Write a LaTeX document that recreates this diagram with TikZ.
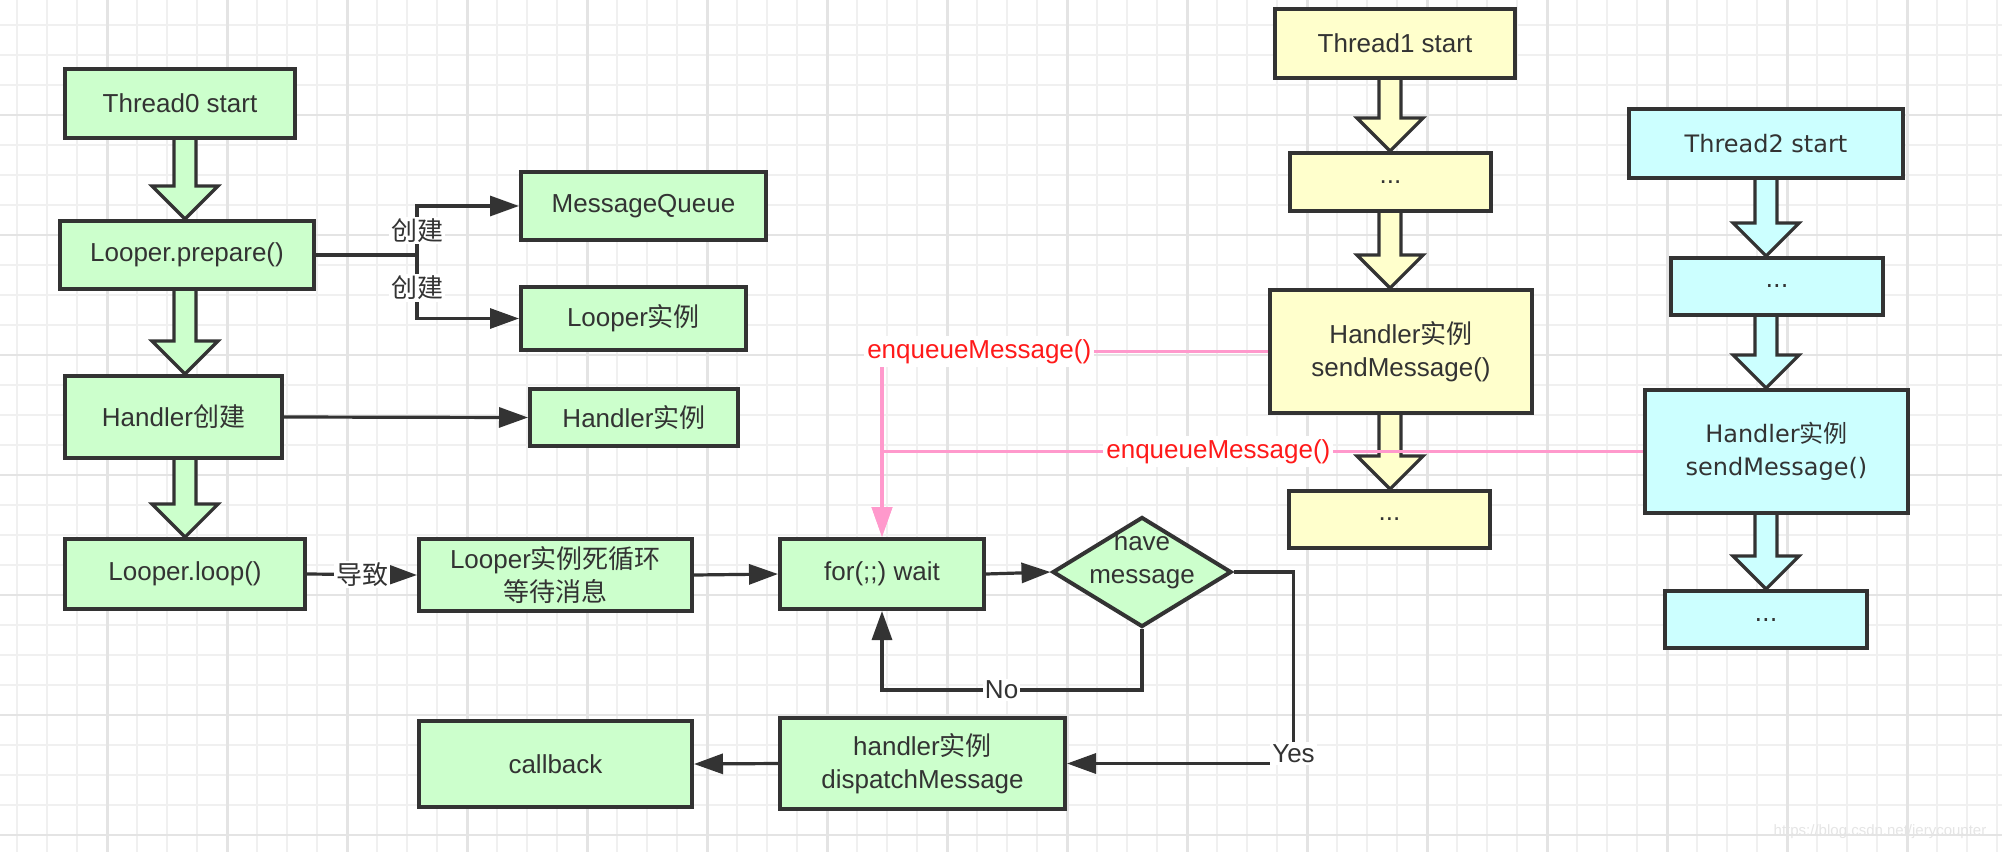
\documentclass[tikz,border=0pt]{standalone}
\usepackage{fontspec}
\setmainfont{Liberation Sans}
\newfontfamily\cjk{Noto Sans CJK SC}
\newfontfamily\dejavu{DejaVu Sans}
\usetikzlibrary{arrows.meta,calc,shapes.geometric}

\definecolor{gfill}{HTML}{CCFFCC}
\definecolor{yfill}{HTML}{FFFFCC}
\definecolor{cfill}{HTML}{CCFFFF}
\definecolor{edge}{HTML}{333333}
\definecolor{pinkline}{HTML}{FF99CC}
\definecolor{enqred}{HTML}{FF1A1A}
\definecolor{gridminor}{HTML}{F0F0F0}
\definecolor{gridmajor}{HTML}{E4E4E4}

\tikzset{every picture/.style={line width=0.75pt}}
\tikzset{
  box/.style={draw=edge, line width=2pt, rectangle, inner sep=0pt, align=center,
    text=edge, font=\fontsize{13}{16.5}\selectfont},
  decision/.style={draw=edge, line width=2pt, diamond, inner sep=0pt, fill=gfill},
  conn/.style={draw=edge, line width=1.6pt, -{Triangle[length=14.5pt,width=10pt]}},
  plain/.style={draw=edge, line width=1.6pt},
  pinkconn/.style={draw=pinkline, line width=1.9pt, -{Triangle[length=15pt,width=10pt]}},
  lbl/.style={fill=white, inner sep=1pt, text=edge, font=\fontsize{13}{16.5}\selectfont},
  redlbl/.style={fill=white, inner sep=1.5pt, text=enqred, font=\fontsize{13}{16.5}\selectfont},
  blockarrow/.style={draw=edge, line width=1.6pt, line join=miter},
}

\begin{document}
\begin{tikzpicture}[x=0.5pt,y=0.5pt,yscale=-1,xscale=1]
		\useasboundingbox (0,0) rectangle (2002,852);
		
		%Grid
		\fill[white] (0,0) rectangle (2002,852);
		\foreach \i in {0,...,66} {\draw[gridminor, line width=1pt] ({17.3+30*\i},0) -- ++(0,852);}
		\foreach \i in {0,...,27} {\draw[gridminor, line width=1pt] (0,{25+30*\i}) -- ++(2002,0);}
		\foreach \i in {0,...,16} {\draw[gridmajor, line width=1.3pt] ({107.3+120*\i},0) -- ++(0,852);}
		\foreach \i in {0,...,6} {\draw[gridmajor, line width=1.3pt] (0,{115+120*\i}) -- ++(2002,0);}
		
		%Shape: Rectangle, Thread0
		\draw (180,103.5) node [box, fill=gfill, minimum width=115pt, minimum height=34.5pt] (t0) {Thread0 start};
		\draw (187,255) node [box, fill=gfill, minimum width=127pt, minimum height=34pt] (prep) {Looper.prepare()};
		\draw (173.5,417) node [box, fill=gfill, minimum width=108.5pt, minimum height=41pt] (hcreate) {Handler{\cjk 创建}};
		\draw (185,574) node [box, fill=gfill, minimum width=120pt, minimum height=35pt] (loop) {Looper.loop()};
		\draw (643.5,206) node [box, fill=gfill, minimum width=122.5pt, minimum height=34pt] (mq) {MessageQueue};
		\draw (633.5,318.5) node [box, fill=gfill, minimum width=112.5pt, minimum height=31.5pt] (lpinst) {Looper{\cjk 实例}};
		\draw (634,417.5) node [box, fill=gfill, minimum width=104pt, minimum height=28.5pt] (hinst) {Handler{\cjk 实例}};
		\draw (555.5,575) node [box, fill=gfill, minimum width=136.5pt, minimum height=36pt] (lpwait) {Looper{\cjk 实例死循环}\\{\cjk 等待消息}};
		\draw (882,574) node [box, fill=gfill, minimum width=102pt, minimum height=35pt] (forwait) {for(;;) wait};
		%Shape: Diamond
		\draw (1142,572) node [decision, minimum width=89.5pt, minimum height=55pt,
		  label={[box, draw=none, yshift=6pt]center:have\\message}] (have) {};
		\draw (922.5,763.5) node [box, fill=gfill, minimum width=142.5pt, minimum height=45.5pt] (dispatch) {handler{\cjk 实例}\\dispatchMessage};
		\draw (555.5,764) node [box, fill=gfill, minimum width=136.5pt, minimum height=43pt] (cb) {callback};
		
		%Shape: Rectangle, Thread1
		\draw (1395,43.5) node [box, fill=yfill, minimum width=120pt, minimum height=34.5pt] (t1) {Thread1 start};
		\draw (1390.5,182) node [box, fill=yfill, minimum width=100.5pt, minimum height=29pt] (y1) {...};
		\draw (1401,351.5) node [box, fill=yfill, minimum width=131pt, minimum height=61.5pt] (h1) {Handler{\cjk 实例}\\sendMessage()};
		\draw (1389.5,519.5) node [box, fill=yfill, minimum width=100.5pt, minimum height=28.5pt] (y2) {...};
		
		%Shape: Rectangle, Thread2
		\draw (1766,143.5) node [box, fill=cfill, minimum width=137pt, minimum height=34.5pt, font=\dejavu\fontsize{12}{16.5}\selectfont] (t2) {Thread2 start};
		\draw (1777,286.5) node [box, fill=cfill, minimum width=106pt, minimum height=28.5pt, font=\dejavu\fontsize{12}{16.5}\selectfont] (c1) {...};
		\draw (1776.5,451.5) node [box, fill=cfill, minimum width=131.5pt, minimum height=61.5pt, font=\dejavu\fontsize{12}{16.5}\selectfont] (h2) {Handler{\cjk 实例}\\sendMessage()};
		\draw (1766,619.5) node [box, fill=cfill, minimum width=101pt, minimum height=28.5pt, font=\dejavu\fontsize{12}{16.5}\selectfont] (c2) {...};
		
		%Block Arrows
		\foreach \ax/\a/\b/\c in {185/t0/prep/gfill, 185/prep/hcreate/gfill, 185/hcreate/loop/gfill,
		    1390/t1/y1/yfill, 1390/y1/h1/yfill, 1390/h1/y2/yfill,
		    1766/t2/c1/cfill, 1766/c1/h2/cfill, 1766/h2/c2/cfill} {
		  \coordinate (ax) at (\ax,0);
		  \draw [blockarrow, fill=\c] ($(\a.south -| ax)+(-11,0)$) -- ($(\b.north -| ax)+(-11,-33)$)
		    -- ($(\b.north -| ax)+(-33,-33)$) -- (\b.north -| ax) -- ($(\b.north -| ax)+(33,-33)$)
		    -- ($(\b.north -| ax)+(11,-33)$) -- ($(\a.south -| ax)+(11,0)$);
		}
		
		%Straight Lines
		\coordinate (fork) at (417,255);
		\draw [plain] (prep.east) -- (fork);
		\draw [conn] (fork) |- node [lbl, pos=0.25] {\cjk 创建} (mq.west);
		\draw [conn] (fork) |- node [lbl, pos=0.26] {\cjk 创建} (lpinst.west);
		\draw [conn] (hcreate.east) -- (hinst.west);
		\draw [conn] (loop.east) -- node [lbl] {\cjk 导致} (lpwait.west);
		\draw [conn] (lpwait.east) -- (forwait.west);
		\draw [conn] (forwait.east) -- (have.west);
		\draw [conn] (have.south) -- ++(0,61) -| node [lbl, pos=0.27] {No} (forwait.south);
		\draw [conn] (have.east) -- ++(60,0) |- node [lbl, pos=0.5, yshift=5pt] {Yes} (dispatch.east);
		\draw [conn] (dispatch.west) -- (cb.east);
		
		%Pink Lines
		\draw [pinkconn] (h1.west) -| node [redlbl, pos=0.374] {enqueueMessage()} (forwait.north);
		\draw [pinkconn] (h2.west) -| node [redlbl, pos=0.279] {enqueueMessage()} (forwait.north);
		
		% Text Node
		\draw (1880,832) node [text=gray!20, font=\fontsize{7.5}{9}\selectfont] (mark) {https://blog.csdn.net/jerycoupter};
		
\end{tikzpicture}
\end{document}
